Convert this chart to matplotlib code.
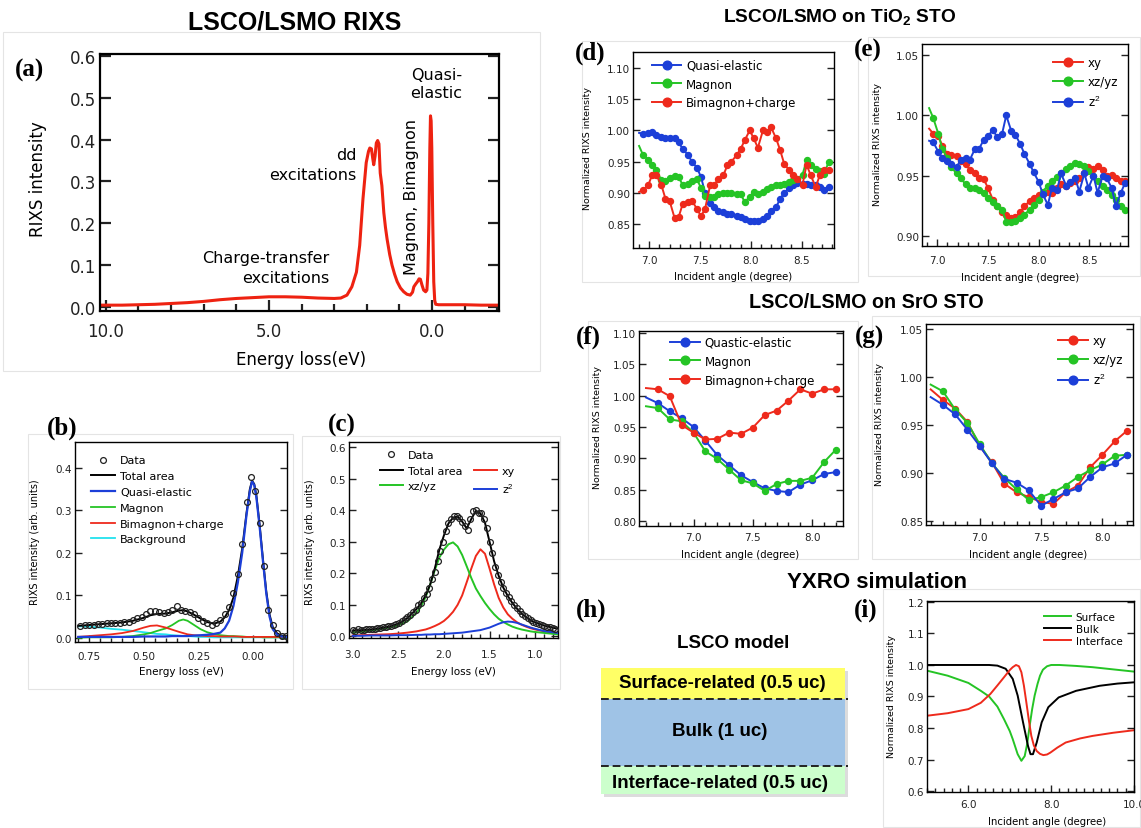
import numpy as np
import matplotlib
matplotlib.use('Agg')
import matplotlib.pyplot as plt
from matplotlib.ticker import MultipleLocator, FormatStrFormatter
from matplotlib.patches import Rectangle
from matplotlib.lines import Line2D

plt.rcParams['font.family'] = 'DejaVu Sans'
plt.rcParams['mathtext.fontset'] = 'custom'
plt.rcParams['mathtext.rm'] = 'Liberation Sans'
plt.rcParams['mathtext.bf'] = 'Liberation Sans:bold'
plt.rcParams['mathtext.it'] = 'Liberation Sans:italic'

# ---------------- data ----------------
# (a) full RIXS spectrum
a_energy = [10.2, 9.5, 9.0, 8.5, 8.0, 7.5, 7.0, 6.5, 6.0, 5.5, 5.0, 4.5, 4.0, 3.5, 3.0,
            2.8, 2.61, 2.46, 2.32, 2.22, 2.12, 2.02, 1.95, 1.91, 1.86, 1.82, 1.79, 1.75,
            1.71, 1.67, 1.63, 1.59, 1.54, 1.48, 1.43, 1.38, 1.3, 1.23, 1.15, 1.07, 0.97,
            0.87, 0.77, 0.67, 0.6, 0.56, 0.5, 0.45, 0.4, 0.36, 0.31, 0.26, 0.2, 0.16,
            0.13, 0.1, 0.07, 0.05, 0.03, 0.01, -0.02, -0.05, -0.08, -0.11, -0.2, -0.5,
            -1.0, -1.5, -2.05]
a_intensity = [0.004, 0.004, 0.005, 0.006, 0.008, 0.010, 0.013, 0.017, 0.020, 0.022, 0.024,
               0.024, 0.023, 0.021, 0.020, 0.021, 0.028, 0.048, 0.083, 0.147, 0.258,
               0.345, 0.372, 0.380, 0.378, 0.355, 0.340, 0.360, 0.392, 0.398, 0.390,
               0.320, 0.290, 0.225, 0.190, 0.162, 0.125, 0.100, 0.078, 0.060, 0.045,
               0.036, 0.030, 0.028, 0.035, 0.048, 0.055, 0.060, 0.067, 0.066, 0.052,
               0.040, 0.036, 0.040, 0.080, 0.200, 0.380, 0.457, 0.445, 0.380, 0.200,
               0.060, 0.015, 0.006, 0.005, 0.005, 0.005, 0.004, 0.004]

# (b) low-energy fit
b_energy = [0.79, 0.77, 0.75, 0.73, 0.71, 0.69, 0.67, 0.65, 0.63, 0.61, 0.59, 0.57, 0.55,
            0.53, 0.51, 0.49, 0.47, 0.45, 0.43, 0.41, 0.39, 0.37, 0.35, 0.33, 0.31, 0.29,
            0.27, 0.25, 0.23, 0.21, 0.19, 0.17, 0.15, 0.13, 0.11, 0.09, 0.07, 0.05, 0.03,
            0.01, -0.01, -0.03, -0.05, -0.07, -0.09, -0.11, -0.13, -0.15]
b_data = [0.028, 0.030, 0.031, 0.031, 0.032, 0.033, 0.035, 0.034, 0.035, 0.035, 0.036,
          0.038, 0.041, 0.046, 0.050, 0.056, 0.064, 0.062, 0.060, 0.058, 0.060, 0.066,
          0.074, 0.065, 0.063, 0.060, 0.055, 0.046, 0.040, 0.035, 0.030, 0.035, 0.042,
          0.055, 0.072, 0.105, 0.150, 0.220, 0.320, 0.378, 0.345, 0.270, 0.170, 0.065,
          0.030, 0.012, 0.005, 0.003]
b_fit_energy = [0.8, 0.75, 0.7, 0.65, 0.6, 0.55, 0.5, 0.47, 0.44, 0.4, 0.37, 0.34, 0.32,
                0.3, 0.27, 0.24, 0.21, 0.18, 0.15, 0.13, 0.11, 0.09, 0.07, 0.05, 0.03,
                0.015, 0.005, -0.005, -0.015, -0.03, -0.045, -0.06, -0.075, -0.09, -0.11,
                -0.13, -0.15]
b_total = [0.028, 0.030, 0.032, 0.034, 0.036, 0.040, 0.047, 0.053, 0.056, 0.057, 0.060,
           0.064, 0.065, 0.062, 0.054, 0.045, 0.037, 0.033, 0.038, 0.048, 0.065, 0.095,
           0.145, 0.210, 0.295, 0.350, 0.370, 0.362, 0.335, 0.265, 0.185, 0.110, 0.055,
           0.025, 0.010, 0.005, 0.004]
b_quasi = [0.002, 0.002, 0.002, 0.002, 0.002, 0.002, 0.003, 0.003, 0.003, 0.003, 0.004,
           0.004, 0.004, 0.004, 0.005, 0.006, 0.007, 0.009, 0.012, 0.022, 0.040, 0.075,
           0.130, 0.200, 0.290, 0.345, 0.368, 0.360, 0.330, 0.260, 0.180, 0.105, 0.050,
           0.020, 0.007, 0.003, 0.002]
b_magnon = [0.000, 0.001, 0.001, 0.001, 0.002, 0.004, 0.008, 0.011, 0.016, 0.022, 0.030,
            0.040, 0.043, 0.040, 0.030, 0.020, 0.013, 0.009, 0.006, 0.005, 0.004, 0.004,
            0.003, 0.003, 0.002, 0.002, 0.002, 0.002, 0.002, 0.002, 0.001, 0.001, 0.001,
            0.001, 0.001, 0.001, 0.001]
b_bimagnon = [0.002, 0.004, 0.006, 0.008, 0.011, 0.016, 0.024, 0.028, 0.029, 0.024, 0.019,
              0.014, 0.011, 0.008, 0.006, 0.005, 0.004, 0.004, 0.003, 0.003, 0.003, 0.003,
              0.003, 0.002, 0.002, 0.002, 0.002, 0.002, 0.002, 0.002, 0.002, 0.002, 0.002,
              0.002, 0.002, 0.002, 0.002]
b_background = [0.027, 0.026, 0.024, 0.021, 0.019, 0.016, 0.013, 0.011, 0.009, 0.008,
                0.006, 0.005, 0.004, 0.004, 0.003, 0.002, 0.002, 0.001, 0.001, 0.001,
                0.001, 0.001, 0.001, 0.001, 0.001, 0.001, 0.001, 0.001, 0.001, 0.001,
                0.001, 0.001, 0.001, 0.001, 0.001, 0.001, 0.001]

# (c) dd excitations fit
c_energy = [3.00, 2.97, 2.94, 2.91, 2.88, 2.85, 2.82, 2.79, 2.76, 2.73, 2.70, 2.67, 2.64,
            2.61, 2.58, 2.55, 2.52, 2.49, 2.46, 2.43, 2.40, 2.37, 2.34, 2.31, 2.28, 2.25,
            2.22, 2.19, 2.16, 2.13, 2.10, 2.07, 2.04, 2.01, 1.98, 1.95, 1.92, 1.89, 1.86,
            1.83, 1.80, 1.77, 1.74, 1.71, 1.68, 1.65, 1.62, 1.59, 1.56, 1.53, 1.50, 1.47,
            1.44, 1.41, 1.38, 1.35, 1.32, 1.29, 1.26, 1.23, 1.20, 1.17, 1.14, 1.11, 1.08,
            1.05, 1.02, 0.99, 0.96, 0.93, 0.90, 0.87, 0.84, 0.81, 0.78]
c_data = [0.020, 0.018, 0.022, 0.020, 0.021, 0.023, 0.022, 0.025, 0.024, 0.027, 0.027,
          0.030, 0.029, 0.033, 0.034, 0.037, 0.040, 0.043, 0.050, 0.054, 0.060, 0.068,
          0.078, 0.085, 0.098, 0.106, 0.122, 0.135, 0.155, 0.182, 0.205, 0.240, 0.270,
          0.300, 0.335, 0.358, 0.372, 0.380, 0.383, 0.376, 0.362, 0.350, 0.338, 0.372,
          0.398, 0.402, 0.392, 0.390, 0.372, 0.345, 0.300, 0.265, 0.220, 0.195, 0.172,
          0.152, 0.138, 0.125, 0.112, 0.100, 0.090, 0.082, 0.072, 0.065, 0.058, 0.052,
          0.046, 0.043, 0.040, 0.036, 0.033, 0.030, 0.031, 0.027, 0.025]
c_fit_energy = [3.0, 2.9, 2.8, 2.7, 2.6, 2.5, 2.4, 2.3, 2.25, 2.2, 2.15, 2.1, 2.05, 2.0,
                1.95, 1.9, 1.85, 1.8, 1.75, 1.7, 1.65, 1.6, 1.55, 1.5, 1.45, 1.4, 1.35,
                1.3, 1.25, 1.2, 1.15, 1.1, 1.05, 1.0, 0.9, 0.8, 0.76]
c_total = [0.018, 0.020, 0.022, 0.026, 0.031, 0.040, 0.058, 0.087, 0.105, 0.130, 0.165,
           0.215, 0.275, 0.320, 0.358, 0.376, 0.380, 0.364, 0.342, 0.372, 0.398, 0.390,
           0.360, 0.300, 0.238, 0.192, 0.155, 0.128, 0.106, 0.088, 0.073, 0.061, 0.051,
           0.044, 0.034, 0.027, 0.025]
c_xy = [0.003, 0.004, 0.005, 0.006, 0.007, 0.009, 0.012, 0.016, 0.019, 0.022, 0.027,
        0.033, 0.040, 0.049, 0.062, 0.078, 0.100, 0.130, 0.172, 0.215, 0.255, 0.276,
        0.262, 0.215, 0.165, 0.122, 0.092, 0.070, 0.056, 0.045, 0.037, 0.031, 0.026,
        0.022, 0.016, 0.012, 0.011]
c_xzyz = [0.012, 0.015, 0.019, 0.023, 0.028, 0.035, 0.048, 0.075, 0.095, 0.125, 0.165,
          0.210, 0.250, 0.275, 0.292, 0.298, 0.285, 0.258, 0.222, 0.185, 0.152, 0.128,
          0.106, 0.087, 0.070, 0.056, 0.046, 0.038, 0.031, 0.026, 0.022, 0.019, 0.016,
          0.014, 0.011, 0.008, 0.007]
c_z2 = [0.002, 0.002, 0.003, 0.003, 0.003, 0.004, 0.004, 0.005, 0.005, 0.006, 0.006,
        0.007, 0.007, 0.008, 0.009, 0.010, 0.011, 0.012, 0.014, 0.016, 0.018, 0.020,
        0.024, 0.028, 0.034, 0.040, 0.045, 0.047, 0.046, 0.043, 0.038, 0.033, 0.028,
        0.024, 0.017, 0.013, 0.011]

# (d) LSCO/LSMO on TiO2 STO, excitations
d_angle = [6.90, 6.94, 6.99, 7.03, 7.07, 7.12, 7.16, 7.20, 7.25, 7.29, 7.33, 7.38, 7.42,
           7.47, 7.51, 7.55, 7.60, 7.64, 7.68, 7.73, 7.77, 7.81, 7.86, 7.90, 7.94, 7.99,
           8.03, 8.07, 8.12, 8.16, 8.20, 8.25, 8.29, 8.33, 8.38, 8.42, 8.46, 8.51, 8.55,
           8.59, 8.64, 8.68, 8.72, 8.77]
d_quasi = [0.996, 0.995, 0.996, 0.997, 0.992, 0.989, 0.988, 0.988, 0.987, 0.981, 0.970,
           0.961, 0.950, 0.940, 0.925, 0.900, 0.884, 0.877, 0.871, 0.869, 0.866, 0.866,
           0.862, 0.861, 0.857, 0.854, 0.855, 0.855, 0.858, 0.862, 0.870, 0.877, 0.890,
           0.900, 0.907, 0.913, 0.916, 0.914, 0.914, 0.912, 0.912, 0.909, 0.904, 0.909]
d_magnon = [0.975, 0.960, 0.953, 0.945, 0.936, 0.920, 0.918, 0.923, 0.927, 0.925, 0.912,
            0.914, 0.918, 0.922, 0.907, 0.895, 0.893, 0.893, 0.897, 0.900, 0.900, 0.900,
            0.898, 0.898, 0.885, 0.893, 0.901, 0.898, 0.901, 0.906, 0.909, 0.912, 0.912,
            0.914, 0.917, 0.920, 0.922, 0.929, 0.952, 0.944, 0.938, 0.934, 0.930, 0.950]
d_bimagnon = [0.901, 0.904, 0.912, 0.929, 0.928, 0.912, 0.890, 0.887, 0.859, 0.861, 0.882,
              0.885, 0.887, 0.874, 0.862, 0.874, 0.912, 0.912, 0.922, 0.928, 0.944, 0.950,
              0.960, 0.970, 0.984, 1.000, 0.987, 0.972, 1.000, 0.997, 1.005, 0.987, 0.968,
              0.946, 0.936, 0.928, 0.922, 0.913, 0.945, 0.928, 0.909, 0.928, 0.936, 0.937]

# (e) LSCO/LSMO on TiO2 STO, orbitals
e_angle = [6.92, 6.96, 7.01, 7.05, 7.10, 7.14, 7.19, 7.23, 7.28, 7.32, 7.37, 7.41, 7.46,
           7.50, 7.55, 7.59, 7.64, 7.68, 7.73, 7.77, 7.82, 7.86, 7.91, 7.95, 8.00, 8.04,
           8.09, 8.13, 8.18, 8.22, 8.27, 8.31, 8.36, 8.40, 8.45, 8.49, 8.54, 8.58, 8.63,
           8.67, 8.72, 8.76, 8.81, 8.85]
e_xy = [0.989, 0.985, 0.983, 0.975, 0.968, 0.967, 0.966, 0.962, 0.960, 0.955, 0.952,
        0.948, 0.947, 0.940, 0.930, 0.925, 0.920, 0.918, 0.915, 0.916, 0.920, 0.925, 0.929,
        0.932, 0.934, 0.935, 0.937, 0.936, 0.940, 0.943, 0.942, 0.944, 0.946, 0.948, 0.952,
        0.957, 0.956, 0.958, 0.955, 0.950, 0.951, 0.948, 0.946, 0.946]
e_xzyz = [1.006, 0.998, 0.985, 0.972, 0.965, 0.957, 0.952, 0.948, 0.943, 0.940, 0.940,
          0.938, 0.936, 0.932, 0.928, 0.925, 0.922, 0.912, 0.912, 0.913, 0.915, 0.918,
          0.922, 0.926, 0.930, 0.937, 0.942, 0.946, 0.949, 0.952, 0.956, 0.958, 0.961,
          0.960, 0.958, 0.954, 0.950, 0.946, 0.942, 0.938, 0.934, 0.930, 0.925, 0.922]
e_z2 = [0.979, 0.978, 0.970, 0.965, 0.962, 0.960, 0.957, 0.963, 0.965, 0.963, 0.972,
        0.972, 0.980, 0.983, 0.988, 0.982, 0.985, 1.000, 0.987, 0.984, 0.976, 0.968,
        0.960, 0.953, 0.945, 0.935, 0.926, 0.940, 0.938, 0.952, 0.942, 0.945, 0.948,
        0.937, 0.952, 0.940, 0.950, 0.936, 0.950, 0.948, 0.940, 0.925, 0.936, 0.944]

# (f) LSCO/LSMO on SrO STO, excitations
f_angle = [6.6, 6.7, 6.8, 6.9, 7.0, 7.1, 7.2, 7.3, 7.4, 7.5, 7.6, 7.7, 7.8, 7.9, 8.0, 8.1, 8.2]
f_quasi = [0.997, 0.988, 0.975, 0.964, 0.950, 0.928, 0.905, 0.889, 0.873, 0.862, 0.852,
           0.848, 0.846, 0.858, 0.865, 0.875, 0.878]
f_magnon = [0.983, 0.980, 0.962, 0.959, 0.941, 0.911, 0.899, 0.882, 0.865, 0.860, 0.848,
            0.859, 0.864, 0.864, 0.869, 0.894, 0.914]
f_bimagnon = [1.012, 1.010, 0.999, 0.953, 0.941, 0.930, 0.931, 0.941, 0.939, 0.949, 0.969,
              0.976, 0.992, 1.010, 1.003, 1.010, 1.010]

# (g) LSCO/LSMO on SrO STO, orbitals
g_angle = [6.6, 6.7, 6.8, 6.9, 7.0, 7.1, 7.2, 7.3, 7.4, 7.5, 7.6, 7.7, 7.8, 7.9, 8.0, 8.1, 8.2]
g_xy = [0.987, 0.976, 0.967, 0.953, 0.928, 0.911, 0.889, 0.880, 0.875, 0.870, 0.868,
        0.880, 0.887, 0.906, 0.919, 0.933, 0.944]
g_xzyz = [0.992, 0.985, 0.966, 0.952, 0.930, 0.910, 0.895, 0.883, 0.872, 0.875, 0.880,
          0.887, 0.896, 0.903, 0.909, 0.918, 0.919]
g_z2 = [0.979, 0.971, 0.961, 0.945, 0.928, 0.910, 0.894, 0.890, 0.882, 0.866, 0.873,
        0.880, 0.884, 0.896, 0.906, 0.910, 0.919]

# (i) YXRO simulation
i_surface_angle = [5.0, 5.5, 6.0, 6.3, 6.5, 6.7, 6.86, 7.0, 7.07, 7.19, 7.28, 7.36, 7.42,
                   7.48, 7.54, 7.6, 7.67, 7.73, 7.8, 7.9, 8.0, 8.2, 8.6, 9.0, 9.5, 10.0]
i_surface = [0.982, 0.966, 0.943, 0.918, 0.900, 0.868, 0.828, 0.790, 0.765, 0.717, 0.696,
             0.711, 0.750, 0.807, 0.860, 0.903, 0.940, 0.966, 0.985, 0.996, 1.000, 1.000,
             0.997, 0.993, 0.986, 0.979]
i_bulk_angle = [5.0, 5.5, 6.0, 6.5, 6.7, 6.9, 7.07, 7.19, 7.32, 7.44, 7.5, 7.56, 7.65,
                7.77, 7.93, 8.18, 8.6, 9.17, 9.6, 10.0]
i_bulk = [1.000, 1.000, 1.000, 1.000, 0.998, 0.988, 0.956, 0.903, 0.818, 0.743, 0.717,
          0.717, 0.754, 0.818, 0.866, 0.897, 0.918, 0.934, 0.941, 0.945]
i_interface_angle = [5.0, 5.5, 6.0, 6.3, 6.53, 6.7, 6.86, 7.0, 7.07, 7.15, 7.22, 7.28,
                     7.34, 7.4, 7.46, 7.52, 7.58, 7.65, 7.73, 7.81, 7.9, 7.98, 8.15, 8.35,
                     8.7, 9.0, 9.5, 10.0]
i_interface = [0.839, 0.847, 0.860, 0.880, 0.908, 0.935, 0.961, 0.984, 0.993, 1.000, 0.996,
               0.977, 0.935, 0.881, 0.825, 0.775, 0.745, 0.727, 0.718, 0.714, 0.716, 0.722,
               0.738, 0.754, 0.767, 0.775, 0.785, 0.793]

# ---------------- figure ----------------
W, H = 1141, 829
fig = plt.figure(figsize=(W / 100, H / 100), dpi=100)

RED = '#ee2a1c'
GREEN = '#25c425'
BLUE = '#1c3fd8'
CYAN = '#22e2ee'

def pax(l, t, r, b):
    return fig.add_axes([l / W, 1 - b / H, (r - l) / W, (b - t) / H])

def ftxt(x, y, s, **kw):
    kw.setdefault('ha', 'center')
    kw.setdefault('va', 'center')
    return fig.text(x / W, 1 - y / H, s, **kw)

def style(ax, xmaj, xmin, ymaj, xfmt, yfmt, xpad, ls=7.5, lw=1.0, majlen=5, minlen=3):
    ax.xaxis.set_major_locator(MultipleLocator(xmaj))
    ax.xaxis.set_minor_locator(MultipleLocator(xmin))
    ax.yaxis.set_major_locator(MultipleLocator(ymaj))
    ax.xaxis.set_major_formatter(FormatStrFormatter(xfmt))
    ax.yaxis.set_major_formatter(FormatStrFormatter(yfmt))
    ax.tick_params(which='both', direction='in', top=False, right=True,
                   width=lw, labelsize=ls, colors='#222222')
    ax.tick_params(axis='x', pad=xpad)
    ax.tick_params(axis='y', pad=2)
    ax.tick_params(which='major', length=majlen)
    ax.tick_params(which='minor', length=minlen)
    for s in ax.spines.values():
        s.set_linewidth(lw)

# background layer (faint panel frames and panel h diagram)
bg = fig.add_axes([0, 0, 1, 1], zorder=-5)
bg.set_xlim(0, W)
bg.set_ylim(H, 0)
bg.axis('off')
for (l, t, r, b) in [(3, 33, 540, 372), (28, 435, 293, 690), (302, 437, 560, 690),
                     (582, 42, 858, 283), (868, 38, 1140, 277), (588, 322, 858, 560),
                     (872, 317, 1140, 560), (883, 590, 1140, 828)]:
    bg.add_patch(Rectangle((l, t), r - l, b - t, fill=False, ec='#e4e4e4', lw=0.8))

# ---- (a)
axa = pax(100, 55, 499, 312)
axa.plot(a_energy, a_intensity, color='#ee2211', lw=2.2)
axa.set_xlim(10.18, -2.05)
axa.set_ylim(-0.01, 0.605)
style(axa, 5, 1, 0.1, '%.1f', '%.1f', xpad=8, ls=12, lw=1.6, majlen=8, minlen=5)
axa.tick_params(axis='y', pad=3)
axa.text(-0.13, 0.534, 'Quasi-\nelastic', fontsize=11.5, ha='center', va='center', linespacing=1.3)
axa.text(2.32, 0.341, 'dd\nexcitations', fontsize=11.5, ha='right', va='center',
         multialignment='right', linespacing=1.45)
axa.text(3.14, 0.095, 'Charge-transfer\nexcitations', fontsize=11.5, ha='right', va='center',
         multialignment='right', linespacing=1.4)
axa.text(0.645, 0.264, 'Magnon, Bimagnon', fontsize=11.5, rotation=90, ha='center', va='center')
ftxt(38, 179, 'RIXS intensity', fontsize=12, rotation=90)
ftxt(301, 360, 'Energy loss(eV)', fontsize=12)
ftxt(295, 22, 'LSCO/LSMO RIXS', fontsize=18, fontweight='bold', family='Liberation Sans')
ftxt(29, 70, '(a)', fontsize=18, fontweight='bold', family='Liberation Serif')

# ---- (b)
axb = pax(75, 443, 287, 643)
axb.plot(b_energy, b_data, 'o', mfc='none', mec='#222222', ms=4.2, mew=0.9, label='Data', zorder=5)
axb.plot(b_fit_energy, b_total, color='k', lw=1.4, label='Total area', zorder=3)
axb.plot(b_fit_energy, b_quasi, color=BLUE, lw=1.6, label='Quasi-elastic', zorder=4)
axb.plot(b_fit_energy, b_magnon, color=GREEN, lw=1.3, label='Magnon', zorder=3)
axb.plot(b_fit_energy, b_bimagnon, color=RED, lw=1.3, label='Bimagnon+charge', zorder=3)
axb.plot(b_fit_energy, b_background, color=CYAN, lw=1.3, label='Background', zorder=2)
axb.set_xlim(0.815, -0.155)
axb.set_ylim(-0.01, 0.461)
style(axb, 0.25, 0.05, 0.1, '%.2f', '%.1f', xpad=6.5)
axb.legend(loc='upper left', frameon=False, fontsize=8, handlelength=2.15, labelspacing=0.52,
           borderaxespad=0.0, handletextpad=0.45, bbox_to_anchor=(0.055, 0.955))
ftxt(35, 542, 'RIXS intensity (arb. units)', fontsize=7, rotation=90)
ftxt(181, 672, 'Energy loss (eV)', fontsize=7.5)
ftxt(62, 428, '(b)', fontsize=18, fontweight='bold', family='Liberation Serif')

# ---- (c)
axc = pax(349, 443, 558, 639)
hd, = axc.plot(c_energy, c_data, 'o', mfc='none', mec='#222222', ms=4.2, mew=0.9, zorder=5)
ht, = axc.plot(c_fit_energy, c_total, color='k', lw=1.4, zorder=4)
hxy, = axc.plot(c_fit_energy, c_xy, color=RED, lw=1.4, zorder=3)
hxz, = axc.plot(c_fit_energy, c_xzyz, color=GREEN, lw=1.4, zorder=3)
hz2, = axc.plot(c_fit_energy, c_z2, color=BLUE, lw=1.4, zorder=3)
axc.set_xlim(3.04, 0.75)
axc.set_ylim(-0.005, 0.616)
style(axc, 0.5, 0.1, 0.1, '%.1f', '%.1f', xpad=8)
blank = Line2D([], [], alpha=0)
axc.legend([hd, ht, hxz, blank, hxy, hz2], ['Data', 'Total area', 'xz/yz', '', 'xy', 'z$^2$'],
           ncol=2, loc='upper left', frameon=False, fontsize=8, handlelength=2.1,
           labelspacing=0.48, columnspacing=1.0, handletextpad=0.45,
           bbox_to_anchor=(0.125, 0.98), borderaxespad=0.0)
ftxt(310, 542, 'RIXS intensity (arb. units)', fontsize=7, rotation=90)
ftxt(453, 672, 'Energy loss (eV)', fontsize=7.5)
ftxt(342, 425, '(c)', fontsize=18, fontweight='bold', family='Liberation Serif')

# ---- angle panels
def angle_panel(box, x, series, xlim, ylim, ymaj, xpad, legend_kw, ylab_xy, xlab_xy):
    ax = pax(*box)
    for y, c, lab in series:
        ax.plot(x, y, '-o', color=c, lw=1.4, ms=4.3, label=lab, markevery=slice(1, None))
    ax.set_xlim(*xlim)
    ax.set_ylim(*ylim)
    style(ax, 0.5, 0.1, ymaj, '%.1f', '%.2f', xpad=xpad)
    ax.legend(frameon=False, fontsize=8.5, handlelength=2.5, labelspacing=0.5,
              handletextpad=0.4, markerscale=1.45, borderaxespad=0.0, **legend_kw)
    ftxt(*ylab_xy, 'Normalized RIXS intensity', fontsize=6.8, rotation=90)
    ftxt(*xlab_xy, 'Incident angle (degree)', fontsize=7.3)
    return ax

angle_panel((633, 53, 834, 249), d_angle,
            [(d_quasi, BLUE, 'Quasi-elastic'), (d_magnon, GREEN, 'Magnon'),
             (d_bimagnon, RED, 'Bimagnon+charge')],
            (6.84, 8.82), (0.811, 1.126), 0.05, 5,
            dict(loc='upper left', bbox_to_anchor=(0.07, 0.99)),
            (588, 148), (733, 277))
angle_panel((922, 45, 1128, 247), e_angle,
            [(e_xy, RED, 'xy'), (e_xzyz, GREEN, 'xz/yz'), (e_z2, BLUE, 'z$^2$')],
            (6.85, 8.88), (0.892, 1.059), 0.05, 6.5,
            dict(loc='upper right', bbox_to_anchor=(0.975, 0.965)),
            (877, 145), (1020, 278))
angle_panel((639, 332, 843, 527), f_angle,
            [(f_quasi, BLUE, 'Quastic-elastic'), (f_magnon, GREEN, 'Magnon'),
             (f_bimagnon, RED, 'Bimagnon+charge')],
            (6.541, 8.259), (0.792, 1.103), 0.05, 4.5,
            dict(loc='upper left', bbox_to_anchor=(0.13, 1.0)),
            (597, 428), (740, 555))
angle_panel((926, 325, 1133, 526), g_angle,
            [(g_xy, RED, 'xy'), (g_xzyz, GREEN, 'xz/yz'), (g_z2, BLUE, 'z$^2$')],
            (6.562, 8.249), (0.846, 1.055), 0.05, 5,
            dict(loc='upper right', bbox_to_anchor=(0.975, 0.975)),
            (880, 425), (1028, 555))

ftxt(840, 17, r'LSCO/LSMO on TiO$_\mathbf{2}$ STO', fontsize=13.8, fontweight='bold',
     family='Liberation Sans')
ftxt(866, 303, 'LSCO/LSMO on SrO STO', fontsize=14.2, fontweight='bold', family='Liberation Sans')
ftxt(877, 582, 'YXRO simulation', fontsize=16, fontweight='bold', family='Liberation Sans')
for (x, y, s) in [(590, 53, '(d)'), (868, 50, '(e)'), (588, 337, '(f)'), (869, 337, '(g)'),
                  (591, 610, '(h)'), (866, 610, '(i)')]:
    ftxt(x, y, s, fontsize=18, fontweight='bold', family='Liberation Serif')

# ---- (h) layer model diagram
for (t, b, c) in [(669, 700, '#ffff66'), (700, 767, '#9fc3e6'), (767, 795, '#ccffcc')]:
    bg.add_patch(Rectangle((604, t + 3), 244, b - t, color='#bbbbbb', alpha=0.5, lw=0, zorder=1))
    bg.add_patch(Rectangle((601, t), 244, b - t, color=c, lw=0, zorder=2))
bg.plot([601, 848], [700, 700], ls=(0, (4, 2)), color='#222222', lw=1.4, zorder=3)
bg.plot([601, 848], [767, 767], ls=(0, (4, 2)), color='#222222', lw=1.4, zorder=3)
bg.text(722, 684, 'Surface-related (0.5 uc)', fontsize=13.5, fontweight='bold',
        family='Liberation Sans', ha='center', va='center', zorder=4)
bg.text(720, 731, 'Bulk (1 uc)', fontsize=13.5, fontweight='bold',
        family='Liberation Sans', ha='center', va='center', zorder=4)
bg.text(720, 784, 'Interface-related (0.5 uc)', fontsize=13.5, fontweight='bold',
        family='Liberation Sans', ha='center', va='center', zorder=4)
bg.text(733, 643, 'LSCO model', fontsize=13.5, fontweight='bold',
        family='Liberation Sans', ha='center', va='center', zorder=4)

# ---- (i)
axi = pax(927, 602, 1134, 793)
axi.plot(i_surface_angle, i_surface, color=GREEN, lw=1.4, label='Surface')
axi.plot(i_bulk_angle, i_bulk, color='k', lw=1.4, label='Bulk')
axi.plot(i_interface_angle, i_interface, color=RED, lw=1.4, label='Interface')
axi.set_xlim(5.0, 10.0)
axi.set_ylim(0.597, 1.203)
style(axi, 2, 0.2, 0.1, '%.1f', '%.1f', xpad=5)
axi.legend(loc='upper right', frameon=False, fontsize=7.5, handlelength=2.6, labelspacing=0.2,
           handletextpad=0.5, bbox_to_anchor=(0.97, 0.97), borderaxespad=0.1)
ftxt(892, 697, 'Normalized RIXS intensity', fontsize=6.8, rotation=90)
ftxt(1047, 822, 'Incident angle (degree)', fontsize=7.3)

fig.savefig('out.png', dpi=100)
